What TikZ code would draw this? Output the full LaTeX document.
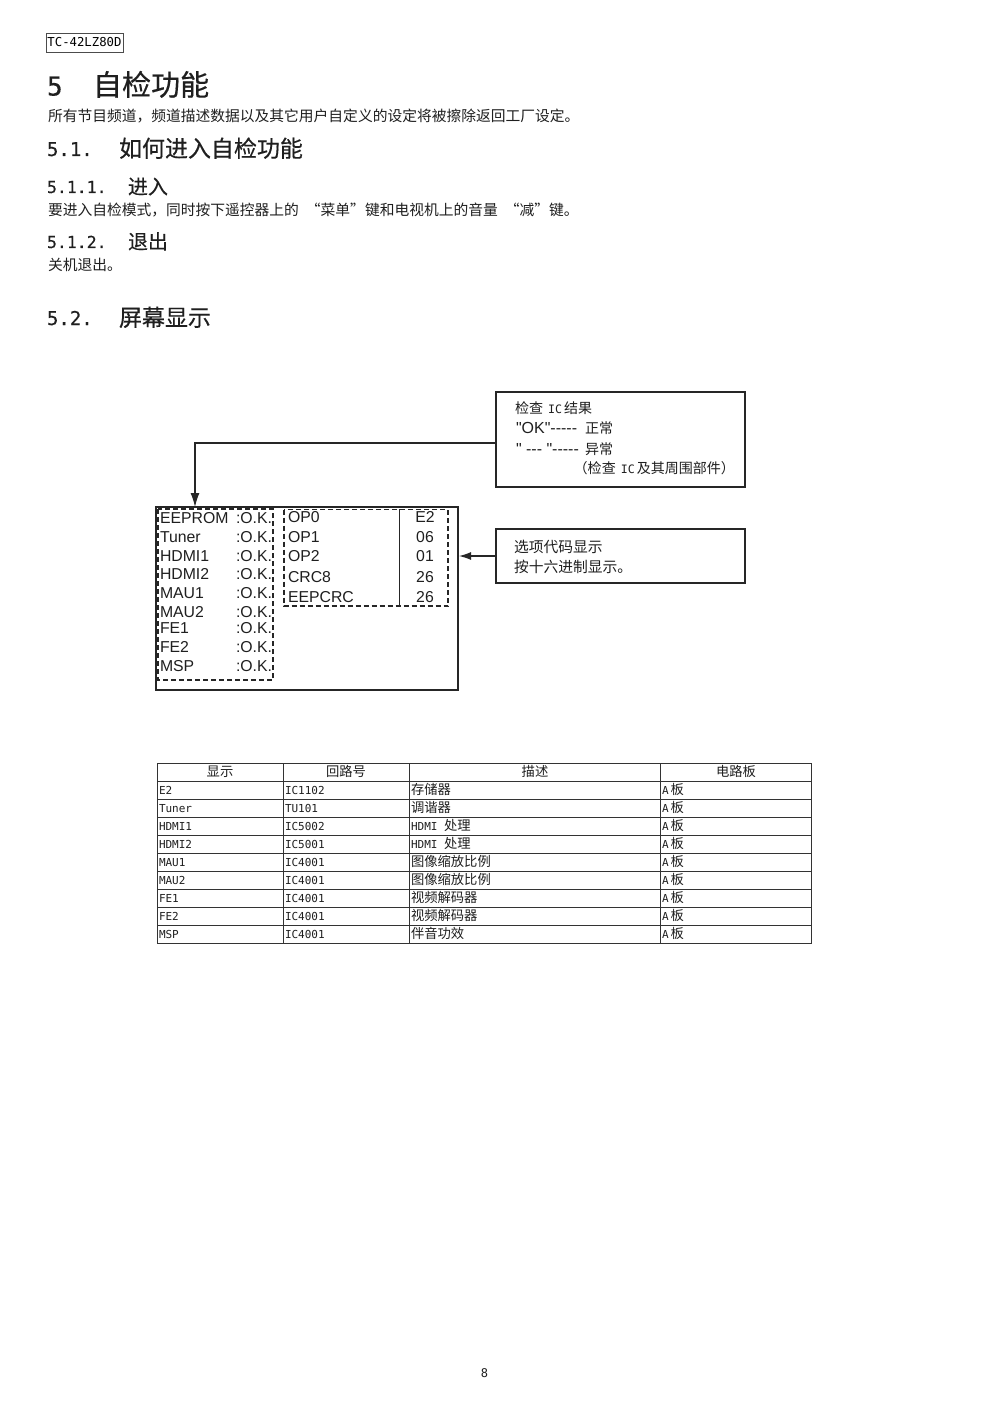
\documentclass[tikz,border=0pt]{standalone}
\usepackage{fontspec}
\setmainfont{Liberation Sans}
\newfontfamily\rawf{Liberation Sans}
\newfontfamily\mnf{DejaVu Sans Mono}
\newfontfamily\mnh[FakeBold=0.4]{DejaVu Sans Mono}
\newfontfamily\cjk[Scale=1.21]{Noto Sans CJK SC}
\newfontfamily\cjkh[Scale=1.21,FakeBold=0.4]{Noto Sans CJK SC}
\newcommand\szf[1]{\fontsize{#1pt}{#1pt}\selectfont}
\usetikzlibrary{arrows.meta}
\tikzset{
 x=1pt,y=-1pt,
 base/.style={inner sep=0,outer sep=0,anchor=base west,text=black!88},
 body/.style={base,yshift=-5.6pt,font=\szf{12.2}\cjk},
 monot/.style={base,yshift=-4.5pt,font=\szf{11}\mnf},
 midt/.style={base,anchor=base,yshift=-4.5pt,font=\szf{11}\cjk},
 titlet/.style={base,yshift=-10.5pt,font=\szf{24}\cjkh},
 titlen/.style={base,yshift=-10.5pt,font=\szf{26}\mnh},
 headA/.style={base,yshift=-8pt,font=\szf{19}\cjkh},
 headAn/.style={base,yshift=-7pt,font=\szf{19}\mnh},
 headB/.style={base,yshift=-7pt,font=\szf{16.5}\cjkh},
 headBn/.style={base,yshift=-6pt,font=\szf{16.5}\mnh},
 scr/.style={base,yshift=-5.8pt,font=\szf{15.8}},
 scrc/.style={base,anchor=base,yshift=-5.8pt,font=\szf{15.8}},
 notec/.style={base,yshift=-5pt,font=\szf{11.6}\cjk},
 noteo/.style={base,yshift=-5pt,font=\szf{12.2}\cjk},
 frame/.style={draw=black!85,line width=1.5pt,inner sep=0,outer sep=0,minimum width=#1},
 dashbox/.style={draw=black!85,line width=1.2pt,dash pattern=on 5pt off 3pt},
 conn/.style={draw=black!85,line width=1.2pt,-{Latex[length=14pt,width=9pt]}},
 conn2/.style={draw=black!85,line width=1.2pt,-{Latex[length=12pt,width=8pt]}},
 grid/.style={draw=black!80,line width=.8pt},
}
\begin{document}
\begin{tikzpicture}
\useasboundingbox[fill=white] (0,0) rectangle (993,1404);
% header
\node[draw=black!70,line width=.7pt,inner sep=0,minimum width=77pt,minimum height=19pt,font=\szf{12.3}\mnf] (model) at (84.5,42.5) {TC-42LZ80D};
\node[titlen] (t1n) at (47,85) {5};
\node[titlet] (t1) at (93,85) {自检功能};
\node[body] (p1) at (48,116) {所有节目频道，频道描述数据以及其它用户自定义的设定将被擦除返回工厂设定。};
\node[headAn] (h1n) at (47,149) {5.1.};
\node[headA] (h1) at (119,149) {如何进入自检功能};
\node[headBn] (h2n) at (47,187) {5.1.1.};
\node[headB] (h2) at (128,187) {进入};
\node[body] (p2) at (48,210) {要进入自检模式，同时按下遥控器上的\hspace{7pt}“菜单”键和电视机上的音量\hspace{7pt}“减”键。};
\node[headBn] (h3n) at (47,242) {5.1.2.};
\node[headB] (h3) at (128,242) {退出};
\node[body] (p3) at (48,265) {关机退出。};
\node[headAn] (h4n) at (47,318) {5.2.};
\node[headA] (h4) at (119,318) {屏幕显示};
% diagram boxes
\node[frame=302pt,minimum height=183pt] (screen) at (307,598.5) {};
\node[frame=249pt,minimum height=95pt] (check) at (620.5,439.5) {};
\node[frame=249pt,minimum height=54pt] (opt) at (620.5,556) {};
\draw[dashbox] (158,509) rectangle (273,680);
\draw[dashbox] (284,509.5) rectangle (448,606);
\draw[draw=black!85,line width=1pt] (399,509) -- (399,606);
\draw[conn] ([yshift=-3.5pt]check.west) -| ([xshift=-112pt]screen.north);
\draw[conn2] (opt.west) -- ([xshift=1pt]opt.west -| screen.east);
% screen text
\foreach \i/\n/\y in {a/EEPROM/518,b/Tuner/537,c/HDMI1/556,d/HDMI2/574,e/MAU1/593,f/MAU2/612,g/FE1/628,h/FE2/647,k/MSP/666}{
 \node[scr] (L\i) at (160,\y) {\n};
 \node[scr] (R\i) at (236,\y) {:O.K.};
}
\foreach \i/\n/\v/\y in {a/OP0/E2/517,b/OP1/06/537,c/OP2/01/556,d/CRC8/26/577,e/EEPCRC/26/597}{
 \node[scr] (O\i) at (288,\y) {\n};
 \node[scrc] (V\i) at (425,\y) {\v};
}
% check box text
\node[notec] (c1) at (515,408.5) {检查\hspace{5pt}{\szf{11.6}\mnf IC}\hspace{2pt}结果};
\node[scr,font=\szf{16}\rawf] (c2) at (516,428) {"OK"-----};
\node[notec] (c2b) at (585,428.5) {正常};
\node[scr,font=\szf{16}\rawf] (c3) at (516,449) {" --- "-----};
\node[notec] (c3b) at (585,449) {异常};
\node[notec,anchor=base east] (c4) at (735,468.5) {（检查\hspace{5pt}{\szf{11.6}\mnf IC}\hspace{2pt}及其周围部件）};
\node[noteo] (o1) at (514,547.5) {选项代码显示};
\node[noteo] (o2) at (514,567.5) {按十六进制显示。};
% table
\draw[grid] (157,763) rectangle (811,943);
\foreach \x in {283,409,660} \draw[grid] (\x,763) -- (\x,943);
\foreach \y in {781,799,817,835,853,871,889,907,925} \draw[grid] (157,\y) -- (811,\y);
\node[midt] (th1) at (220,772) {显示};
\node[midt] (th2) at (346,772) {回路号};
\node[midt] (th3) at (535,772) {描述};
\node[midt] (th4) at (736,772) {电路板};
\foreach \i/\a/\b/\c/\y in {
 1/E2/IC1102/{\cjk 存储器}/790,
 2/Tuner/TU101/{\cjk 调谐器}/808,
 3/HDMI1/IC5002/{HDMI\ {\cjk 处理}}/826,
 4/HDMI2/IC5001/{HDMI\ {\cjk 处理}}/844,
 5/MAU1/IC4001/{\cjk 图像缩放比例}/862,
 6/MAU2/IC4001/{\cjk 图像缩放比例}/880,
 7/FE1/IC4001/{\cjk 视频解码器}/898,
 8/FE2/IC4001/{\cjk 视频解码器}/916,
 9/MSP/IC4001/{\cjk 伴音功效}/934}{
 \node[monot] (ta\i) at (159,\y) {\a};
 \node[monot] (tb\i) at (285,\y) {\b};
 \node[monot] (tc\i) at (411,\y) {\c};
 \node[monot] (td\i) at (662,\y) {A\hspace{2pt}{\cjk 板}};
}
\node[base,anchor=base,yshift=-4.5pt,font=\szf{12}\mnf] (pg) at (484.5,1373) {8};
\end{tikzpicture}
\end{document}
